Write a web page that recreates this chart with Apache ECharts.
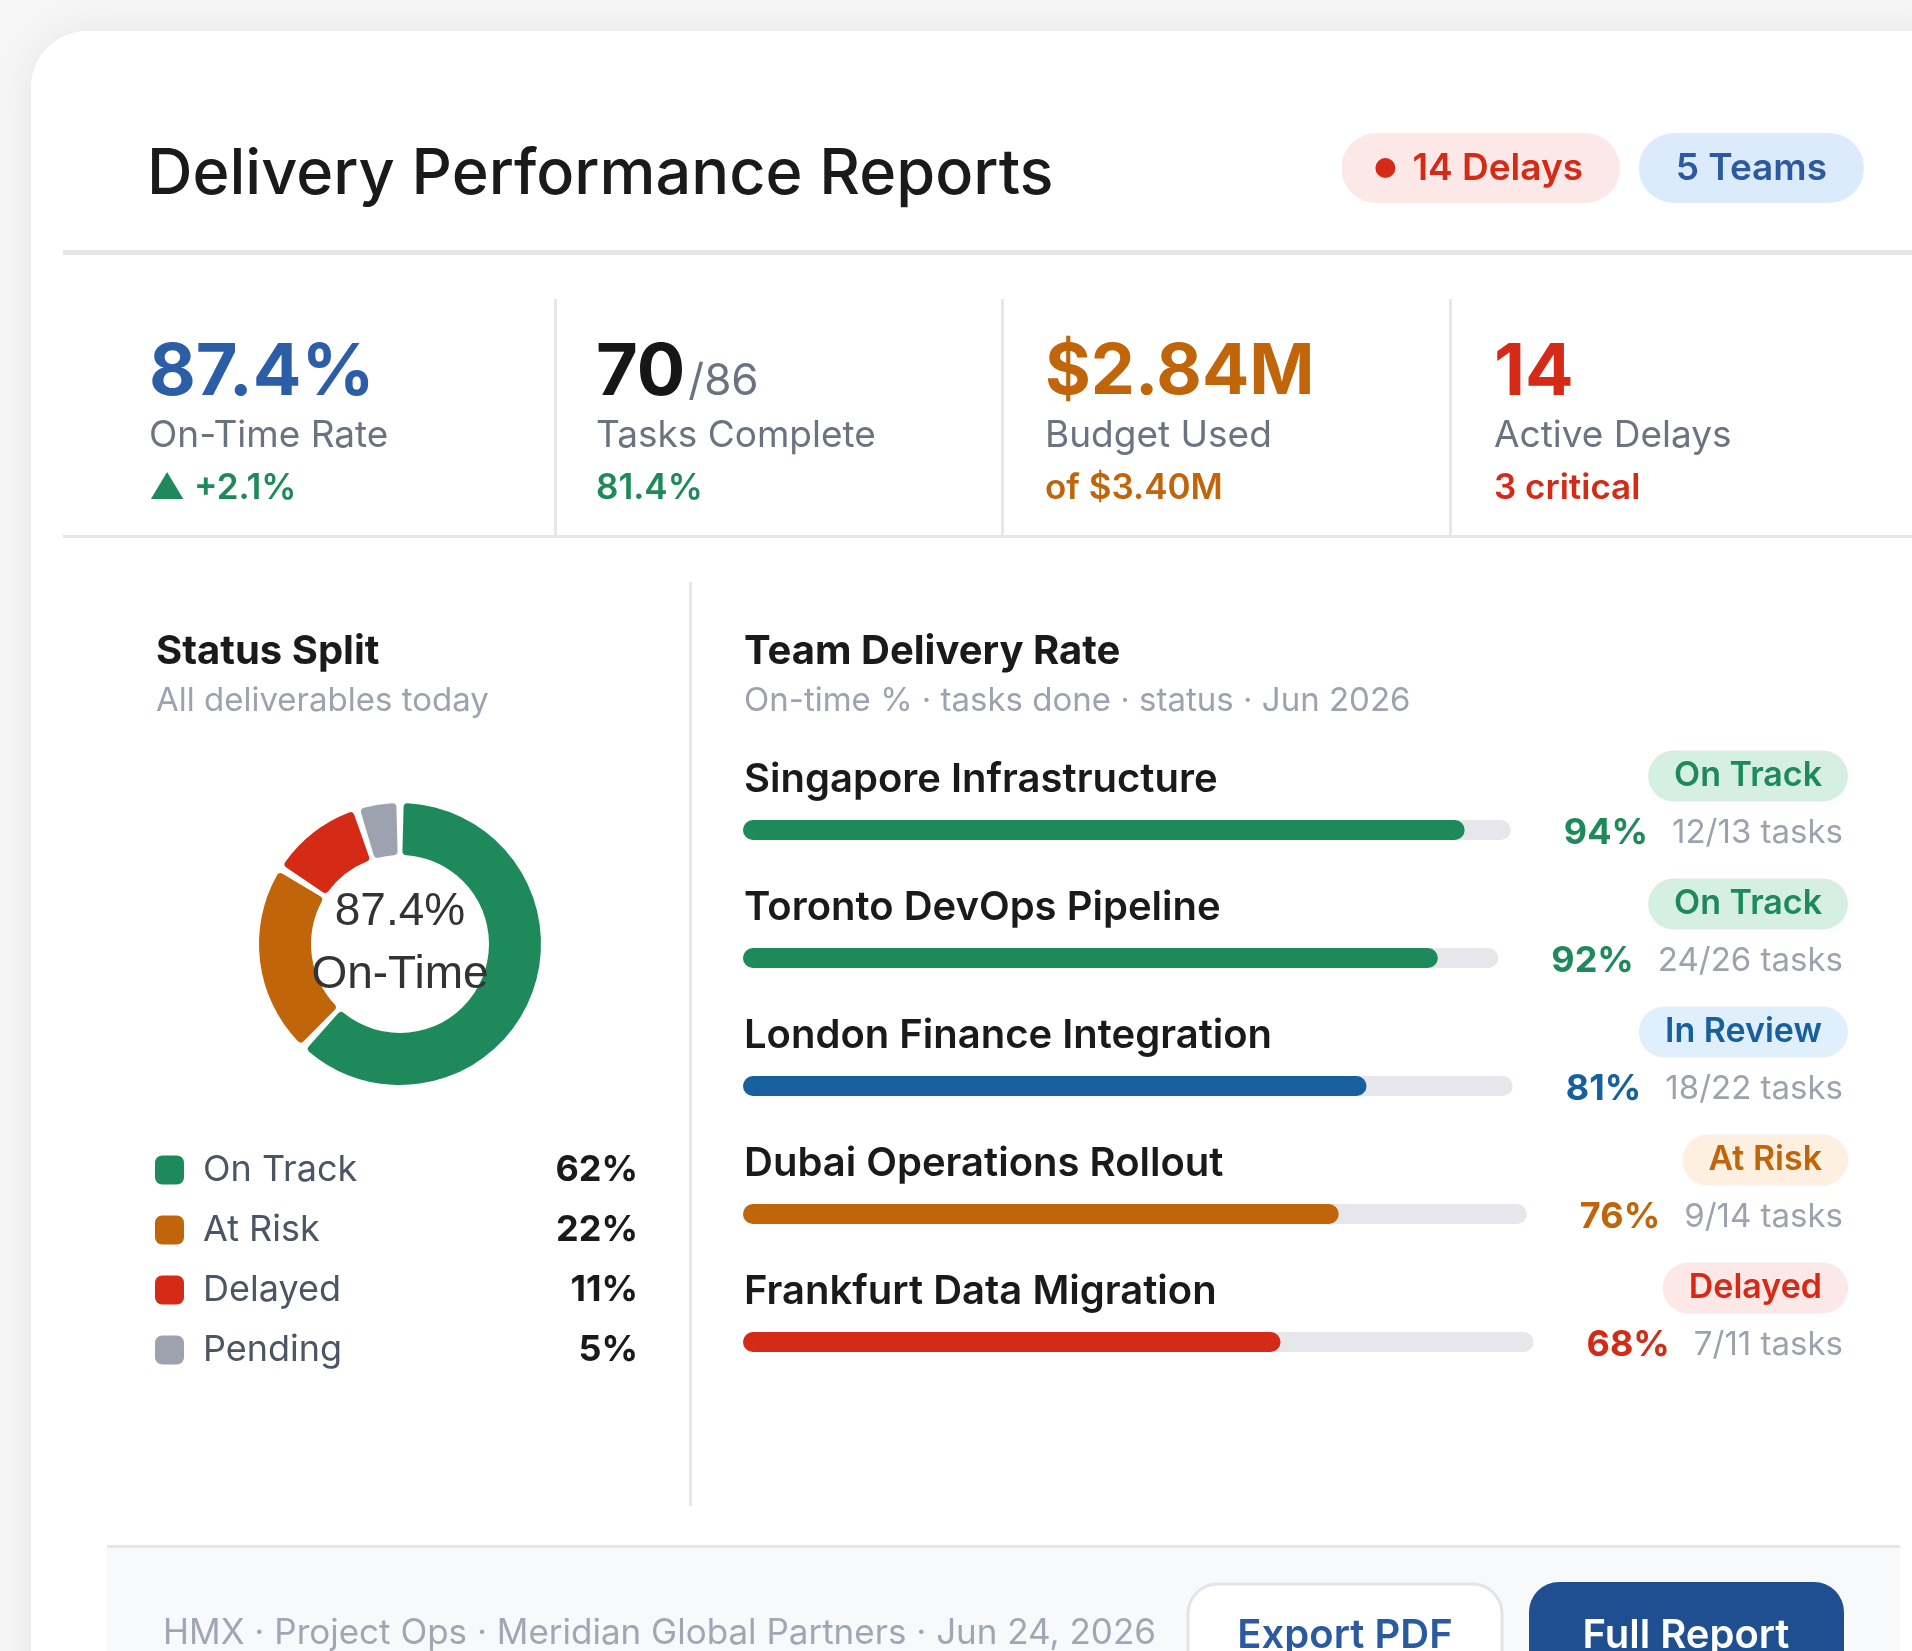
<!DOCTYPE html>
<html>
<head>
<meta charset="utf-8">
<title>Delivery Performance Reports</title>
<script src="https://cdn.jsdelivr.net/npm/echarts@6/dist/echarts.min.js"></script>
<style>
  html, body { margin: 0; padding: 0; background: #f6f6f7; }
  #chart { width: 1912px; height: 1651px; }
</style>
</head>
<body>
<div id="chart"></div>
<script>
// ---- data ----
const headerBadges = ['14 Delays', '5 Teams']
const kpiValues = ['87.4%', '70', '$2.84M', '14']
const kpiSuffix = ['', '/86', '', '']
const kpiLabels = ['On-Time Rate', 'Tasks Complete', 'Budget Used', 'Active Delays']
const kpiNotes = ['\u25B2 +2.1%', '81.4%', 'of $3.40M', '3 critical']

const statusNames = ['On Track', 'At Risk', 'Delayed', 'Pending']
const statusShares = [62, 22, 11, 5]
const donutCenter = ['87.4%', 'On-Time']

const teamNames = [
  'Singapore Infrastructure',
  'Toronto DevOps Pipeline',
  'London Finance Integration',
  'Dubai Operations Rollout',
  'Frankfurt Data Migration'
]
const teamRates = [94, 92, 81, 76, 68]
const teamDone = [12, 24, 18, 9, 7]
const teamTotal = [13, 26, 22, 14, 11]
const teamStatus = ['On Track', 'On Track', 'In Review', 'At Risk', 'Delayed']

const footerText = 'HMX \u00B7 Project Ops \u00B7 Meridian Global Partners \u00B7 Jun 24, 2026'
const buttonLabels = ['Export PDF', 'Full Report']

// ---- styling ----
const FONT = "Inter, 'Noto Sans', sans-serif"
const C = {
  ink: '#1a1a1a',
  muted: '#6b7280',
  soft: '#9ca3af',
  line: '#e5e7eb',
  green: '#1e8a5c',
  orange: '#c0650a',
  red: '#d42a16',
  gray: '#9ca3af',
  blue: '#2c5ea8',
  reviewBlue: '#1660a0'
}
const statusColor = {
  'On Track': C.green, 'At Risk': C.orange, 'Delayed': C.red, 'Pending': C.gray, 'In Review': C.reviewBlue
}
const statusBg = {
  'On Track': '#d5efe2', 'At Risk': '#fdf0e1', 'Delayed': '#fde8e8', 'In Review': '#e0effc'
}
const kpiColors = [C.blue, '#161616', C.orange, C.red]
const noteColors = [C.green, C.green, C.orange, C.red]

const measureCtx = document.createElement('canvas').getContext('2d')
const textWidth = (text, font) => { measureCtx.font = font; return measureCtx.measureText(text).width }
const f = (w, s, fam) => `${w} ${s}px ${fam || FONT}`

const txt = (x, y, text, font, fill, align, extra) => Object.assign({
  type: 'text', x, y, silent: true,
  style: { text, font, fill, textAlign: align || 'left', textVerticalAlign: 'middle' }
}, extra || {})

const graphics = []

// card + frame
graphics.push({ type: 'rect', shape: { x: 31, y: 31, width: 1960, height: 1700, r: 56 },
  style: { fill: '#fff', shadowBlur: 40, shadowColor: 'rgba(0,0,0,0.07)' }, silent: true, z: -10 })
graphics.push({ type: 'rect', shape: { x: 63, y: 250, width: 1900, height: 5 }, style: { fill: '#e3e5e8' }, silent: true })
graphics.push({ type: 'rect', shape: { x: 63, y: 535, width: 1900, height: 3 }, style: { fill: C.line }, silent: true })
;[554, 1001, 1449].forEach(x => graphics.push({ type: 'rect', shape: { x, y: 299, width: 3, height: 237 }, style: { fill: C.line }, silent: true }))
graphics.push({ type: 'rect', shape: { x: 689, y: 582, width: 3, height: 924 }, style: { fill: C.line }, silent: true })

// header
graphics.push(txt(147, 175, 'Delivery Performance Reports', f(500, 63), C.ink))
const pillFont = f(600, 37)
const pillColors = [[C.red, '#fde8e8'], ['#2c5aa0', '#dcebfb']]
const pillRight = [1620, 1864]
headerBadges.forEach((b, i) => {
  const dot = i === 0
  const padL = dot ? 71 : 37
  const w = textWidth(b, pillFont) + padL + 37
  const left = pillRight[i] - w
  graphics.push({ type: 'rect', shape: { x: left, y: 133, width: w, height: 70, r: 35 }, style: { fill: pillColors[i][1] }, silent: true })
  if (dot) graphics.push({ type: 'circle', shape: { cx: left + 44, cy: 168, r: 10 }, style: { fill: pillColors[i][0] }, silent: true })
  graphics.push(txt(left + padL, 169, b, pillFont, pillColors[i][0]))
})

// KPI strip
const kpiX = [149, 596, 1045, 1494]
kpiValues.forEach((v, i) => {
  const big = f(700, i === 2 ? 70 : 72)
  graphics.push(txt(kpiX[i], 373, v, big, kpiColors[i]))
  if (kpiSuffix[i]) {
    graphics.push(txt(kpiX[i] + textWidth(v, big) + 3, 382, kpiSuffix[i], f(400, 44), C.muted))
  }
  graphics.push(txt(kpiX[i], 436, kpiLabels[i], f(400, 37), C.muted))
  graphics.push(txt(kpiX[i], 488, kpiNotes[i], f(600, 35), noteColors[i]))
})

// section headings
graphics.push(txt(156, 652, 'Status Split', f(700, 40), C.ink))
graphics.push(txt(156, 701, 'All deliverables today', f(400, 33), C.soft))
graphics.push(txt(744, 652, 'Team Delivery Rate', f(700, 40), C.ink))
graphics.push(txt(744, 701, 'On-time % \u00B7 tasks done \u00B7 status \u00B7 Jun 2026', f(400, 33), C.soft))

// donut center
graphics.push({ type: 'text', x: 400, y: 944, z: 100, silent: true,
  style: { text: donutCenter.join('\n'), font: "400 46px 'Liberation Sans', Arial, sans-serif",
    fill: '#333', lineHeight: 63, textAlign: 'center', textVerticalAlign: 'middle' } })

// team rows: labels, badges, values; bar tracks end where the value text begins
const rowPitch = 128
const pctFont = f(700, 36)
const taskFont = f(400, 33)
const valueRight = 1843
const grids = [], xAxes = [], yAxes = [], barSeries = []
teamNames.forEach((name, i) => {
  const dy = i * rowPitch
  graphics.push(txt(744, 780 + dy, name, f(600, 40), C.ink))
  const st = teamStatus[i]
  graphics.push({ type: 'text', x: 1848, y: 776 + dy, silent: true,
    style: { text: st, font: f(600, 34), fill: statusColor[st], textAlign: 'right', textVerticalAlign: 'middle',
      backgroundColor: statusBg[st], padding: [9, 26, 8, 26], borderRadius: 26 } })
  const pct = teamRates[i] + '%'
  const tasks = `${teamDone[i]}/${teamTotal[i]} tasks`
  const valueW = textWidth(pct, pctFont) + 24 + textWidth(tasks, taskFont)
  const valueLeft = valueRight - valueW
  graphics.push(txt(valueLeft, 833 + dy, pct, pctFont, statusColor[st]))
  graphics.push(txt(valueRight, 833 + dy, tasks, taskFont, C.soft, 'right'))

  const trackEnd = valueLeft - 53
  grids.push({ left: 743, width: trackEnd - 743, top: 820 + dy, height: 20 })
  xAxes.push({ type: 'value', gridIndex: i, min: 0, max: 100, show: false })
  yAxes.push({ type: 'category', gridIndex: i, data: [name], show: false })
  barSeries.push({
    type: 'bar', xAxisIndex: i, yAxisIndex: i, barWidth: 20, silent: true,
    data: [teamRates[i]],
    showBackground: true,
    backgroundStyle: { color: '#e5e7eb', borderRadius: 10 },
    itemStyle: { color: statusColor[st], borderRadius: 10 },
    animation: false
  })
})

// footer
graphics.push({ type: 'rect', shape: { x: 107, y: 1546, width: 1793, height: 200 }, style: { fill: '#f8f9fb' }, silent: true })
graphics.push({ type: 'rect', shape: { x: 107, y: 1545, width: 1793, height: 3 }, style: { fill: '#e3e6ea' }, silent: true })
graphics.push(txt(163, 1633, footerText, f(400, 35), '#a0a7b4'))
graphics.push({ type: 'rect', shape: { x: 1188, y: 1584, width: 314, height: 110, r: 30 },
  style: { fill: '#fff', stroke: '#e1e4e8', lineWidth: 3 }, silent: true })
graphics.push(txt(1345, 1636, buttonLabels[0], f(600, 40), '#2a5aa0', 'center'))
graphics.push({ type: 'rect', shape: { x: 1529, y: 1582, width: 315, height: 110, r: 30 },
  style: { fill: '#1f4f91' }, silent: true })
graphics.push(txt(1686, 1636, buttonLabels[1], f(600, 40), '#fff', 'center'))

const legendFmt = {}
statusNames.forEach((n, i) => { legendFmt[n] = statusShares[i] + '%' })

const chart = echarts.init(document.getElementById('chart'))
chart.setOption({
  backgroundColor: '#f6f6f7',
  animation: false,
  graphic: { elements: graphics },
  legend: {
    orient: 'vertical', left: 155, top: 1152, padding: 0,
    icon: 'roundRect', itemWidth: 29, itemHeight: 29, itemGap: 24,
    selectedMode: false,
    data: statusNames,
    formatter: name => `{s| }{n|${name}}{v|${legendFmt[name]}}`,
    textStyle: {
      rich: {
        s: { width: 14, lineHeight: 28 },
        n: { width: 335, fontFamily: FONT, fontSize: 36, color: '#4b5563', lineHeight: 28 },
        v: { width: 100, align: 'right', fontFamily: FONT, fontSize: 36, fontWeight: 700, color: C.ink, lineHeight: 28 }
      }
    }
  },
  grid: grids,
  xAxis: xAxes,
  yAxis: yAxes,
  series: [
    {
      type: 'pie',
      center: [400, 944],
      radius: [89, 141],
      startAngle: 90,
      clockwise: true,
      padAngle: 3,
      silent: true,
      label: { show: false },
      labelLine: { show: false },
      itemStyle: { borderRadius: 4 },
      data: statusNames.map((n, i) => ({ name: n, value: statusShares[i], itemStyle: { color: statusColor[n] } }))
    },
    ...barSeries
  ]
})
</script>
</body>
</html>
